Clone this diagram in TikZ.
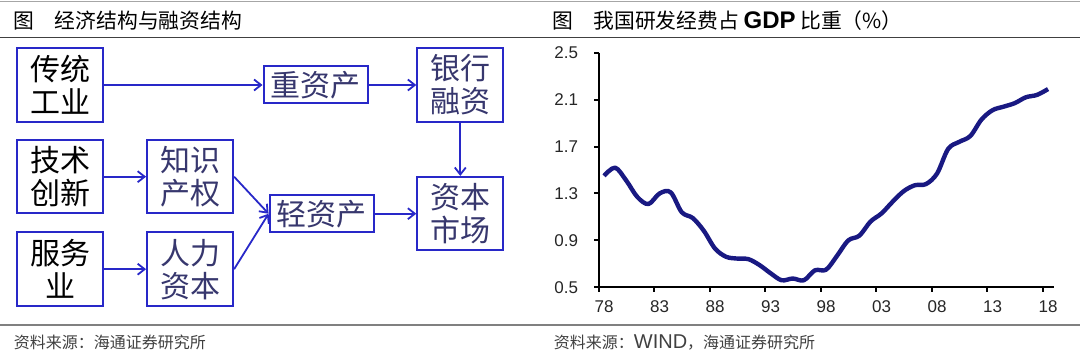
\documentclass[tikz,border=0pt]{standalone}
\usepackage{fontspec}
\setmainfont{Liberation Sans}
\newfontfamily\cjk{Noto Sans CJK SC}
\usetikzlibrary{arrows.meta}

\begin{document}
\begin{tikzpicture}[x=0.5pt,y=0.5pt,
  box/.style={draw=boxblue,line width=1pt,inner sep=0pt,align=center,
    font=\cjk\fontsize{15pt}{16.5pt}\selectfont},
  tall/.style={box,minimum width=43pt,minimum height=36.75pt},
  flat/.style={box,minimum width=52pt,minimum height=18.5pt,text=boxtext},
  link/.style={-{Straight Barb[length=3.5pt,width=5.5pt]},draw=boxblue,line width=0.9pt},
  ttl/.style={inner sep=0pt,font=\cjk\fontsize{10.4pt}{12pt}\selectfont},
  src/.style={inner sep=0pt,text=black!75,font=\cjk\fontsize{8pt}{10pt}\selectfont},
  rule/.style={line width=0.75pt},
  ax/.style={line width=1pt},
  tick/.style={inner sep=0pt,text=black!85,font=\fontsize{8.5pt}{10pt}\selectfont},
  gdp/.style={draw=gdpblue,line width=2.2pt,line join=round}]
\definecolor{boxblue}{RGB}{40,40,200}\definecolor{boxtext}{RGB}{55,55,110}
\definecolor{gdpblue}{RGB}{25,25,130}
\useasboundingbox (0,0) rectangle (1080,354);
% ===== frame rules and captions =====
\draw[rule,black!35] (0,352.5)--(1080,352.5);
\draw[rule,black!75] (0,316.5)--(1080,316.5);
\draw[rule,black!50] (0,29)--(1080,29);
\node[ttl,anchor=west] (figL) at (13.5,333){图};
\node[ttl,anchor=west] (ttlL) at (54.5,333){经济结构与融资结构};
\node[ttl,anchor=west] (figR) at (552.5,333){图};
\node[ttl,anchor=west] (ttlR) at (593,333){我国研发经费占 {\rmfamily\bfseries\fontsize{12pt}{12pt}\selectfont GDP} 比重（\%）};
\node[src,anchor=west] (srcL) at (13.5,11.5){资料来源：海通证券研究所};
\node[src,anchor=west] (srcR) at (553.5,11.5){资料来源：{\rmfamily\fontsize{10pt}{12pt}\selectfont WIND}，海通证券研究所};
% ===== left panel: economy -> assets -> financing =====
\node[tall] (trad)  at (60.3,269)  {传统\\工业};
\node[tall] (tech)  at (60.3,177.3){技术\\创新};
\node[tall] (serv)  at (60.3,84.8) {服务\\业};
\node[tall,text=boxtext] (ip)    at (190.1,177.3){知识\\产权};
\node[tall,text=boxtext] (human) at (190.1,84.8) {人力\\资本};
\node[flat] (heavy) at (315.5,269)  {重资产};
\node[flat] (light) at (321.6,140.3){轻资产};
\node[tall,text=boxtext] (bank)  at (460.3,269)  {银行\\融资};
\node[tall,text=boxtext] (capm)  at (460.3,140.3){资本\\市场};
\draw[link] (trad)--(heavy);
\draw[link] (heavy)--(bank);
\draw[link] (bank)--(capm);
\draw[link] (tech)--(ip);
\draw[link] (serv)--(human);
\draw[link] (ip.east)--(light.west);
\draw[link] (human.east)--(light.west);
\draw[link] (light)--(capm);
% ===== right panel: R&D spending / GDP, 1978-2018 =====
\begin{scope}[shift={(604.05,8.05)},x=5.55pt,y=58.65pt]
\draw[ax] (-0.5,2.5)--(-0.5,0.5)--(40.5,0.5);
\foreach \v [count=\k] in {0.5,0.9,1.3,1.7,2.1,2.5}{
  \draw[ax] (-0.5,\v)--++(-2.5pt,0);
  \node[tick,anchor=east,xshift=-10pt] (ylab\k) at (-0.5,\v){\v};}
\foreach \k in {0,...,8}{\draw[ax] (5*\k-0.5,0.5)--++(0,-2.5pt);}
\foreach \yr [count=\k from 0] in {78,83,88,93,98,03,08,13,18}{
  \node[tick,anchor=north,yshift=-6.5pt] (xlab\k) at (5*\k,0.5){\yr};}
\draw[gdp] plot[smooth,tension=0.55] coordinates {
  (0,1.45) (1,1.52) (2,1.41) (3,1.27) (4,1.21) (5,1.30) (6,1.31) (7,1.14)
  (8,1.09) (9,0.98) (10,0.83) (11,0.76) (12,0.745) (13,0.74) (14,0.69)
  (15,0.62) (16,0.56) (17,0.575) (18,0.56) (19,0.645) (20,0.65) (21,0.77)
  (22,0.90) (23,0.94) (24,1.06) (25,1.13) (26,1.23) (27,1.32) (28,1.37)
  (29,1.38) (30,1.47) (31,1.68) (32,1.74) (33,1.79) (34,1.93) (35,2.01)
  (36,2.04) (37,2.07) (38,2.12) (39,2.14) (40,2.19)};
\end{scope}
\end{tikzpicture}
\end{document}
